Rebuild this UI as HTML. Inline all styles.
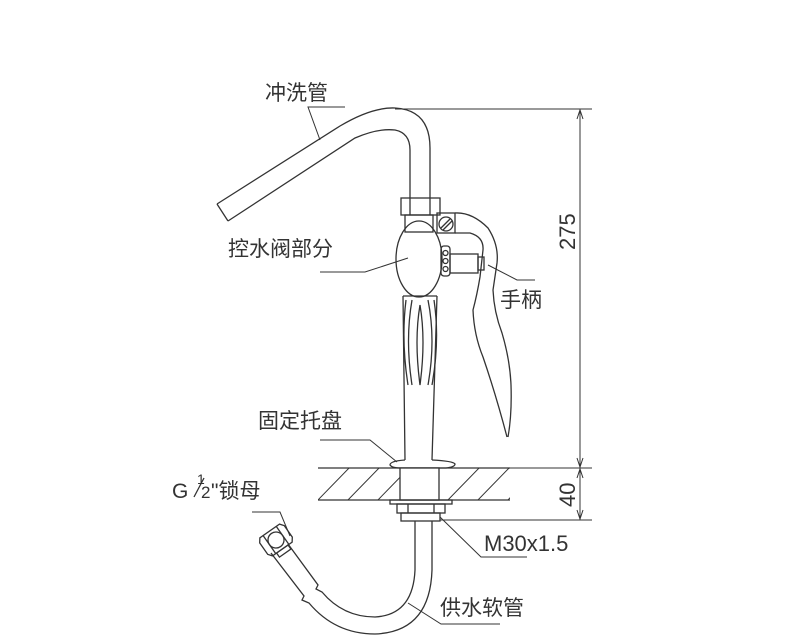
<!DOCTYPE html>
<html><head><meta charset="utf-8"><style>
html,body{margin:0;padding:0;background:#fff;}
svg{display:block}
text{font-family:"Liberation Sans","Noto Sans CJK SC",sans-serif;fill:#333;}
</style></head><body>
<svg width="800" height="642" viewBox="0 0 800 642" xmlns="http://www.w3.org/2000/svg">
<defs>
<clipPath id="hc"><rect x="318" y="468" width="192" height="32"/></clipPath>
</defs>
<g fill="none" stroke="#333" stroke-width="1.3">
<!-- spout -->
<path d="M217,204 L340,126 Q372,107 395,108 Q430,110 430,148 L430,198"/>
<path d="M228,221 L355,138 Q378,128 395,130 Q410,133 410,150 L410,198"/>
<path d="M217,204 L228,221"/>
<line x1="395" y1="109" x2="592" y2="109" stroke-width="1"/>
<!-- nut -->
<rect x="401" y="198" width="39" height="17"/>
<line x1="410" y1="198" x2="410" y2="215"/><line x1="430" y1="198" x2="430" y2="215"/>
<rect x="405" y="215" width="28" height="17"/>
<ellipse cx="419" cy="259" rx="23" ry="38"/>
<rect x="437" y="213" width="18" height="20"/>
<circle cx="446" cy="224" r="7"/>
<line x1="441" y1="228" x2="450" y2="219"/>
<line x1="443" y1="230" x2="452" y2="221"/>
<!-- lever -->
<path d="M455,213 Q472,212 488,228 Q499,245 497,263 L493,290 Q494,312 502,333 Q510,360 511,385 Q512,415 508,437"/>
<path d="M455,233 L470,233 Q484,237 483,250 L480,277 Q477,295 473,310 Q474,335 483,357 Q496,395 507,437"/>
<rect x="441" y="246" width="9" height="30" rx="3"/>
<circle cx="445.5" cy="253" r="2.5"/><circle cx="445.5" cy="261" r="2.5"/><circle cx="445.5" cy="269" r="2.5"/>
<rect x="450" y="254" width="28" height="19"/>
<rect x="478" y="257" width="6" height="13"/>
<!-- body -->
<path d="M403,296 L437,296"/>
<path d="M403,296 L405,460 M437,296 L432,460"/>
<path d="M406,300 Q401,340 408,385 M412,300 Q405,340 412,385"/>
<path d="M434,300 Q440,340 432,385 M428,300 Q436,340 428,385"/>
<path d="M420,305 Q414,340 420,385 Q426,340 420,305"/>
<path d="M405,460 Q390,461 390,465 Q392,468 400,468 L446,468 Q455,467 455,464 Q453,461 432,460"/>
<line x1="318" y1="468" x2="510" y2="468"/>
<line x1="318" y1="500" x2="510" y2="500"/>
<g clip-path="url(#hc)" stroke-width="1">
<path d="M315,503 L352,465 M345,503 L382,465 M375,503 L412,465 M445,503 L482,465 M475,503 L512,465 M505,503 L542,465"/>
</g>
<rect x="400" y="468" width="39" height="32" fill="#fff"/>
<rect x="390" y="500" width="62" height="4"/>
<rect x="397" y="504" width="48" height="9"/>
<line x1="408" y1="504" x2="408" y2="513"/><line x1="434" y1="504" x2="434" y2="513"/>
<rect x="401" y="513" width="39" height="8"/>
<!-- hose -->
<path d="M271,553 L304,596 L302,600 L309,603 Q335,634 375,634 Q430,632 432,570 L432,521"/>
<path d="M288,544 L318,585 L316,589 L322,592 Q343,617 375,617 Q413,615 415,570 L415,521"/>
<!-- hose nut -->
<g transform="rotate(-35 276 540)">
<path d="M261,533 L264,529 L288,529 L291,533 L291,547 L288,551 L264,551 L261,547 Z"/>
<circle cx="276" cy="540" r="8"/>
<line x1="268" y1="529" x2="268" y2="551"/><line x1="284" y1="529" x2="284" y2="551"/>
<rect x="269" y="551" width="14" height="5"/>
</g>
<g stroke-width="1">
<line x1="580" y1="109" x2="580" y2="520"/>
<line x1="440" y1="520" x2="592" y2="520"/>
<line x1="510" y1="468" x2="592" y2="468"/>
<path d="M577,458 L580,467 L583,458 M577,478 L580,469 L583,478 M577,510 L580,519 L583,510 M577,119 L580,110 L583,119"/>
</g>
<g stroke-width="1">
<path d="M320,140 L308,107 L345,107"/>
<path d="M320,272 L365,272 L408,258"/>
<path d="M488,265 L517,280 L535,280"/>
<path d="M320,440 L370,440 L397,462"/>
<path d="M252,512 L280,512 L290,536"/>
<path d="M440,517 L481,557 L527,557"/>
<path d="M408,603 L441,624 L500,624"/>
</g>
</g>
<g font-size="21">
<text x="265" y="100">冲洗管</text>
<text x="228" y="256">控水阀部分</text>
<text x="500" y="307">手柄</text>
<text x="258" y="428">固定托盘</text>
<text x="172" y="498">G</text>
<text x="197" y="484" font-size="14">1</text>
<line x1="194" y1="497" x2="204" y2="478" stroke="#333" stroke-width="1.3"/>
<text x="201" y="498" font-size="17">2</text>
<text x="211" y="498" font-size="21">"锁母</text>
<text x="484" y="551" font-size="22">M30x1.5</text>
<text x="440" y="615">供水软管</text>
<text transform="translate(575,250) rotate(-90)" font-size="22">275</text>
<text transform="translate(575,507) rotate(-90)" font-size="22">40</text>
</g>
</svg>
</body></html>
